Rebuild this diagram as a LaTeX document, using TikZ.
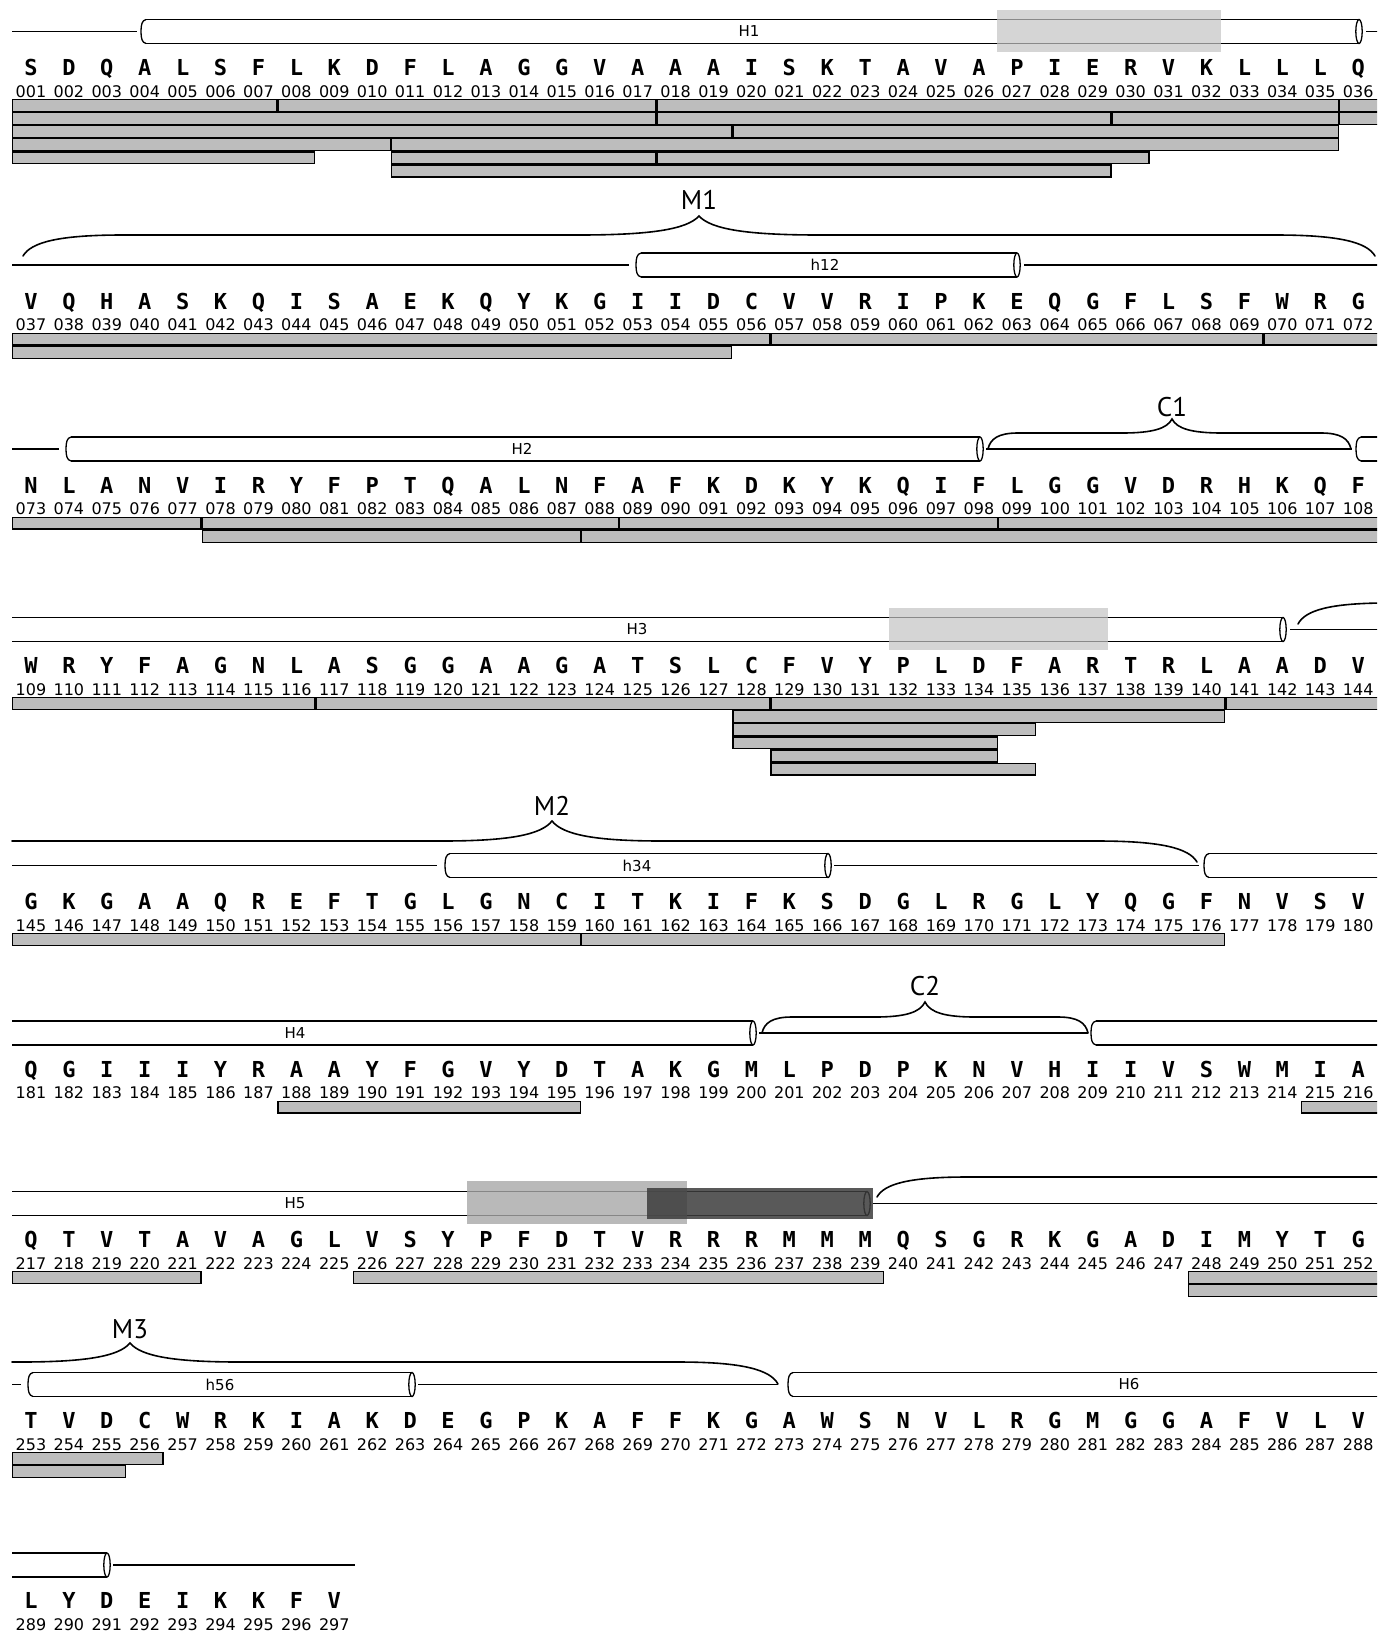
\documentclass[tikz,border=0pt]{standalone}
\usepackage{fontspec}
\setmainfont{DejaVu Sans}
\newfontfamily\resfont{DejaVu Sans Mono}
\newfontfamily\numfont{DejaVu Sans}
\newfontfamily\labfont{PT Sans}
\definecolor{barg}{RGB}{189,189,189}
\definecolor{boxa}{RGB}{196,196,196}
\definecolor{boxb}{RGB}{168,168,168}
\definecolor{boxc}{RGB}{60,60,60}
\tikzset{
  res/.style={font=\resfont\bfseries\fontsize{22pt}{22pt}\selectfont, inner sep=0pt, anchor=base},
  num/.style={font=\numfont\fontsize{16pt}{16pt}\selectfont, inner sep=0pt, anchor=base},
  cylab/.style={font=\numfont\fontsize{15pt}{15pt}\selectfont, inner sep=0pt},
  blab/.style={font=\labfont\fontsize{27pt}{27pt}\selectfont, inner sep=0pt, anchor=base},
  cylline/.style={line width=1.3pt},
  bracel/.style={line width=1.6pt, line cap=round},
  hbar/.style={fill=barg, draw=black, line width=1.2pt},
}
% residue row: first number, letter centre y, list of letters
\newcommand\resrow[3]{%
  \foreach \rl [count=\i] in {#3} {%
    \pgfmathtruncatemacro\nn{#1+\i-1}%
    \edef\nnn{\ifnum\nn<10 00\else\ifnum\nn<100 0\fi\fi\nn}%
    \node[res] (r\nnn) at ({12+(\i-0.5)*37.92},{#2+8}) {\rl};
    \node[num] (n\nnn) at ({12+(\i-0.5)*37.92},{#2+29.8}) {\nnn};
  }}
% bar: row letter y, level, start col, end col
\newcommand\hb[4]{%
  \draw[hbar] ({12+(#3-1)*37.92+0.6},{#1+31.5+#2*13.1+0.6}) rectangle ({12+#4*37.92-0.6},{#1+31.5+(#2+1)*13.1-0.6});}
% cylinder pieces
\newcommand\capL[2]{%
  \draw[cylline] ({#1+5},{#2-12}) .. controls ({#1+1},{#2-11}) and (#1,{#2-7}) .. (#1,#2) .. controls (#1,{#2+7}) and ({#1+1},{#2+11}) .. ({#1+5},{#2+12});}
\newcommand\capR[2]{%
  \draw[cylline, fill=white] (#1,#2) ellipse [x radius=3.2pt, y radius=12pt];}
\newcommand\cylCC[3]{%
  \draw[cylline] ({#1+5},{#3-12}) -- (#2,{#3-12}) ({#1+5},{#3+12}) -- (#2,{#3+12});
  \capL{#1}{#3}\capR{#2}{#3}}
\newcommand\cylCO[2]{%
  \draw[cylline] ({#1+5},{#2-12}) -- (1385,{#2-12}) ({#1+5},{#2+12}) -- (1385,{#2+12});
  \capL{#1}{#2}}
\newcommand\cylOC[3]{%
  \draw[cylline] (#1,{#3-12}) -- (#2,{#3-12}) (#1,{#3+12}) -- (#2,{#3+12});
  \capR{#2}{#3}}
\newcommand\lline[3]{\draw[cylline] (#1,#3) -- (#2,#3);}
% brace pieces
\newcommand\bEndL[4]{% xl, yend, ytop, e
  \draw[bracel] (#1,#2) .. controls ({#1+0.08*#4},{#3+0.35*(#2-#3)}) and ({#1+0.35*#4},#3) .. ({#1+#4},#3);}
\newcommand\bEndR[4]{% xr, yend, ytop, e
  \draw[bracel] ({#1-#4},#3) .. controls ({#1-0.35*#4},#3) and ({#1-0.08*#4},{#3+0.35*(#2-#3)}) .. (#1,#2);}
\newcommand\bTip[4]{% xtip, ytop, ytip, t
  \draw[bracel] ({#1-#4},#2) .. controls ({#1-0.4*#4},#2) and ({#1-0.1*#4},{#2-0.3*(#2-#3)}) .. (#1,#3)
     .. controls ({#1+0.1*#4},{#2-0.3*(#2-#3)}) and ({#1+0.4*#4},#2) .. ({#1+#4},#2);}
\newcommand\bFlat[3]{\draw[bracel] (#1,#3) -- (#2,#3);}

\begin{document}
\begin{tikzpicture}[x=1pt,y=-1pt]
\useasboundingbox (0,0) rectangle (1377,1632);
\fill[white] (0,0) rectangle (1377,1632);
\clip (0,0) rectangle (1377,1632);

% ---------- row 1 ----------
\lline{12}{137}{31.5}
\cylCC{141}{1359}{31.5}
\lline{1366}{1380}{31.5}
\node[cylab] (lH1) at (749,31.5) {H1};
\fill[boxa, opacity=0.7] (997,10) rectangle (1221,52);
\resrow{1}{67.5}{S,D,Q,A,L,S,F,L,K,D,F,L,A,G,G,V,A,A,A,I,S,K,T,A,V,A,P,I,E,R,V,K,L,L,L,Q}
\hb{67.5}{0}{1}{7}\hb{67.5}{0}{8}{17}\hb{67.5}{0}{18}{35}\hb{67.5}{0}{36}{36.3}
\hb{67.5}{1}{1}{17}\hb{67.5}{1}{18}{29}\hb{67.5}{1}{30}{35}\hb{67.5}{1}{36}{36.3}
\hb{67.5}{2}{1}{19}\hb{67.5}{2}{20}{35}
\hb{67.5}{3}{1}{10}\hb{67.5}{3}{11}{35}
\hb{67.5}{4}{1}{8}\hb{67.5}{4}{11}{17}\hb{67.5}{4}{18}{30}
\hb{67.5}{5}{11}{29}

% ---------- row 2 ----------
\bEndL{23}{256}{235}{100}
\bFlat{123}{579}{235}
\bTip{699}{235}{216}{120}
\bFlat{819}{1275}{235}
\bEndR{1375}{256}{235}{100}
\node[blab] (M1) at (699,209.5) {M1};
\lline{12}{629}{265}
\cylCC{636}{1017}{265}
\lline{1024}{1380}{265}
\node[cylab] (lh12) at (825,265) {h12};
\resrow{37}{301}{V,Q,H,A,S,K,Q,I,S,A,E,K,Q,Y,K,G,I,I,D,C,V,V,R,I,P,K,E,Q,G,F,L,S,F,W,R,G}
\hb{301}{0}{1}{20}\hb{301}{0}{21}{33}\hb{301}{0}{34}{36.3}
\hb{301}{1}{1}{19}

% ---------- row 3 ----------
\lline{12}{59}{449}
\cylCC{66}{980}{449}
\node[cylab] (lH2) at (522,449) {H2};
\lline{986}{1352}{449}
\bEndL{988}{449}{433}{30}
\bFlat{1018}{1122}{433}
\bTip{1172}{433}{419}{50}
\bFlat{1222}{1321}{433}
\bEndR{1351}{449}{433}{30}
\node[blab] (C1) at (1172,416) {C1};
\cylCO{1356}{449}
\resrow{73}{485}{N,L,A,N,V,I,R,Y,F,P,T,Q,A,L,N,F,A,F,K,D,K,Y,K,Q,I,F,L,G,G,V,D,R,H,K,Q,F}
\hb{485}{0}{1}{5}\hb{485}{0}{6}{16}\hb{485}{0}{17}{26}\hb{485}{0}{27}{36.3}
\hb{485}{1}{6}{15}\hb{485}{1}{16}{36.3}

% ---------- row 4 ----------
\cylOC{12}{1283}{629.5}
\node[cylab] (lH3) at (637,629.5) {H3};
\lline{1290}{1380}{629.5}
\bEndL{1298}{624}{603}{90}
\bFlat{1388}{1390}{603}
\fill[boxa, opacity=0.7] (889,608) rectangle (1108,650);
\resrow{109}{665.5}{W,R,Y,F,A,G,N,L,A,S,G,G,A,A,G,A,T,S,L,C,F,V,Y,P,L,D,F,A,R,T,R,L,A,A,D,V}
\hb{665.5}{0}{1}{8}\hb{665.5}{0}{9}{20}\hb{665.5}{0}{21}{32}\hb{665.5}{0}{33}{36.3}
\hb{665.5}{1}{20}{32}
\hb{665.5}{2}{20}{27}
\hb{665.5}{3}{20}{26}
\hb{665.5}{4}{21}{26}
\hb{665.5}{5}{21}{27}

% ---------- row 5 ----------
\bFlat{12}{442}{841}
\bTip{552}{841}{821}{110}
\bFlat{662}{1097}{841}
\bEndR{1197}{862}{841}{100}
\node[blab] (M2) at (552,815.5) {M2};
\lline{12}{437}{865.5}
\cylCC{445}{828}{865.5}
\node[cylab] (lh34) at (637,865.5) {h34};
\lline{834}{1199}{865.5}
\cylCO{1204}{865.5}
\resrow{145}{901.5}{G,K,G,A,A,Q,R,E,F,T,G,L,G,N,C,I,T,K,I,F,K,S,D,G,L,R,G,L,Y,Q,G,F,N,V,S,V}
\hb{901.5}{0}{1}{15}\hb{901.5}{0}{16}{32}

% ---------- row 6 ----------
\cylOC{12}{753}{1033}
\node[cylab] (lH4) at (295,1033) {H4};
\lline{759}{1088}{1033}
\bEndL{762}{1033}{1017}{30}
\bFlat{792}{875}{1017}
\bTip{925}{1017}{1002}{50}
\bFlat{975}{1058}{1017}
\bEndR{1088}{1033}{1017}{30}
\node[blab] (C2) at (925,995.5) {C2};
\cylCO{1091}{1033}
\resrow{181}{1069}{Q,G,I,I,I,Y,R,A,A,Y,F,G,V,Y,D,T,A,K,G,M,L,P,D,P,K,N,V,H,I,I,V,S,W,M,I,A}
\hb{1069}{0}{8}{15}\hb{1069}{0}{35}{36.3}

% ---------- row 7 ----------
\cylOC{12}{867}{1203.5}
\node[cylab] (lH5) at (295,1203.5) {H5};
\lline{873}{1380}{1203.5}
\bEndL{877}{1197}{1177}{90}
\bFlat{967}{1380}{1177}
\fill[boxb, opacity=0.8] (467,1181) rectangle (687,1224);
\fill[boxc, opacity=0.85] (647,1188) rectangle (873,1219);
\resrow{217}{1239.5}{Q,T,V,T,A,V,A,G,L,V,S,Y,P,F,D,T,V,R,R,R,M,M,M,Q,S,G,R,K,G,A,D,I,M,Y,T,G}
\hb{1239.5}{0}{1}{5}\hb{1239.5}{0}{10}{23}\hb{1239.5}{0}{32}{36.3}
\hb{1239.5}{1}{32}{36.3}

% ---------- row 8 ----------
\bFlat{12}{20}{1362}
\bTip{130}{1362}{1343}{110}
\bFlat{240}{678}{1362}
\bEndR{778}{1384}{1362}{100}
\node[blab] (M3) at (130,1338.5) {M3};
\lline{12}{21}{1384.5}
\cylCC{28}{412}{1384.5}
\node[cylab] (lh56) at (220,1384.5) {h56};
\lline{418}{778}{1384.5}
\cylCO{788}{1384.5}
\node[cylab] (lH6) at (1129,1384.5) {H6};
\resrow{253}{1420.5}{T,V,D,C,W,R,K,I,A,K,D,E,G,P,K,A,F,F,K,G,A,W,S,N,V,L,R,G,M,G,G,A,F,V,L,V}
\hb{1420.5}{0}{1}{4}
\hb{1420.5}{1}{1}{3}

% ---------- row 9 ----------
\cylOC{12}{107}{1565}
\lline{113}{355}{1565}
\resrow{289}{1600.5}{L,Y,D,E,I,K,K,F,V}
\end{tikzpicture}
\end{document}
